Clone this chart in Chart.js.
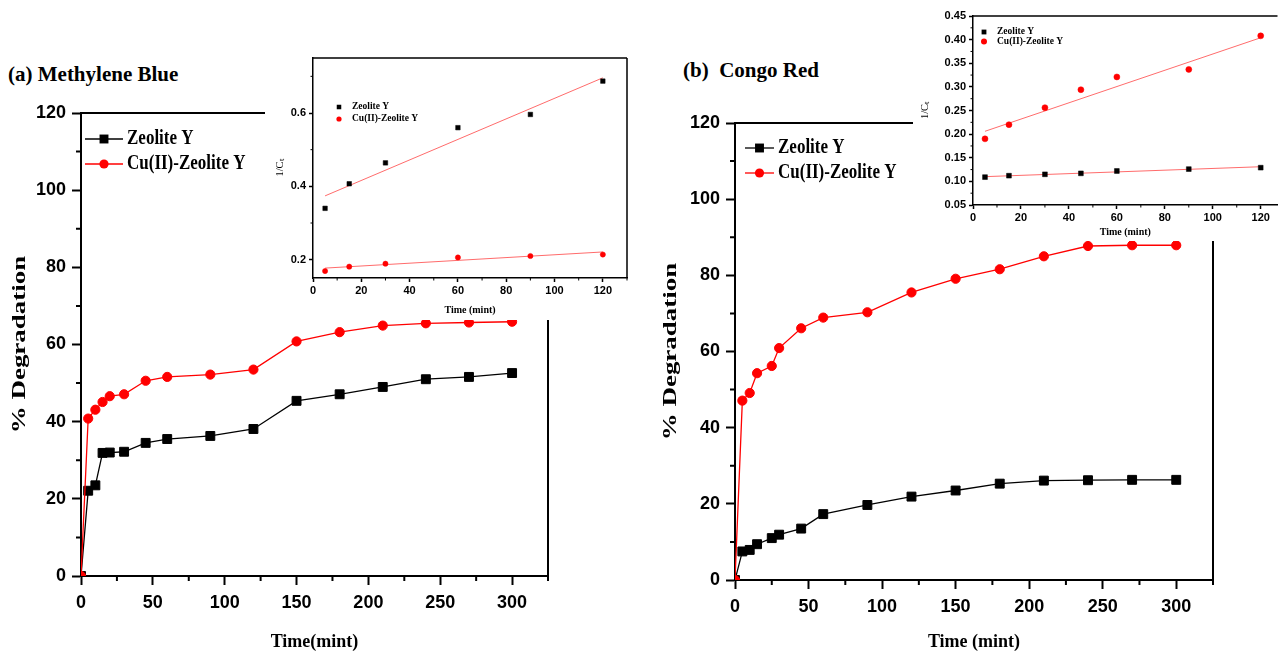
<!DOCTYPE html>
<html>
<head>
<meta charset="utf-8">
<script src="https://cdn.jsdelivr.net/npm/chart.js@4.4.1/dist/chart.umd.min.js"></script>
<style>
  html, body { margin: 0; padding: 0; background: #fff; overflow: hidden; }
  body { width: 1282px; height: 653px; position: relative; }
  canvas { position: absolute; }
  .inset { background: #fff; }
  .panel-title {
    position: absolute; color: #000; white-space: pre;
    font-family: 'Liberation Serif', 'Times New Roman', serif;
    font-weight: bold; font-size: 21px;
  }
</style>
</head>
<body>
<div class="panel-title" style="left:8px; top:62px">(a) Methylene Blue</div>
<div class="panel-title" style="left:683px; top:58px">(b)  Congo Red</div>

<canvas id="mainA" width="570" height="653" style="left:0; top:0"></canvas>
<canvas id="mainB" width="600" height="653" style="left:640px; top:0"></canvas>
<canvas id="insetA" class="inset" width="380" height="280" style="left:265px; top:40px"></canvas>
<canvas id="insetB" class="inset" width="369" height="241" style="left:913px; top:0"></canvas>

<script>
// ---- data ----
const timeA = [0, 5, 10, 15, 20, 30, 45, 60, 90, 120, 150, 180, 210, 240, 270, 300];
const zeoliteA = [0, 22.1, 23.5, 31.9, 32.0, 32.2, 34.5, 35.5, 36.3, 38.1, 45.4, 47.1, 49.0, 51.0, 51.6, 52.6];
const cuZeoliteA = [0, 40.8, 43.1, 45.1, 46.6, 47.1, 50.6, 51.6, 52.2, 53.5, 60.8, 63.2, 64.9, 65.5, 65.7, 65.9];

const timeB = [0, 5, 10, 15, 25, 30, 45, 60, 90, 120, 150, 180, 210, 240, 270, 300];
const zeoliteB = [0, 7.5, 7.9, 9.4, 11.0, 11.9, 13.5, 17.3, 19.7, 21.9, 23.5, 25.3, 26.1, 26.2, 26.3, 26.3];
const cuZeoliteB = [0, 47.1, 49.1, 54.3, 56.2, 60.9, 66.1, 68.9, 70.3, 75.5, 79.1, 81.6, 85.0, 87.7, 87.9, 87.9];

// kinetic insets (1/Ct vs time) and their fitted lines
const insetTimeA = [5, 15, 30, 60, 90, 120];
const insetZeoA = [0.340, 0.407, 0.464, 0.560, 0.596, 0.687];
const insetCuA = [0.169, 0.181, 0.189, 0.206, 0.210, 0.214];
const fitTimeA = [5, 120];
const fitZeoA = [0.374, 0.696];
const fitCuA = [0.177, 0.221];

const insetTimeB = [5, 15, 30, 45, 60, 90, 120];
const insetZeoB = [0.109, 0.112, 0.115, 0.117, 0.122, 0.126, 0.129];
const insetCuB = [0.190, 0.220, 0.256, 0.294, 0.321, 0.337, 0.408];
const fitTimeB = [5, 120];
const fitZeoB = [0.110, 0.131];
const fitCuB = [0.206, 0.404];

// tick values
const mainXTicks = [0, 50, 100, 150, 200, 250, 300];
const mainXMinor = [25, 75, 125, 175, 225, 275, 325];
const mainYTicks = [0, 20, 40, 60, 80, 100, 120];
const mainYMinor = [10, 30, 50, 70, 90, 110];
const insetXTicks = [0, 20, 40, 60, 80, 100, 120];
const insetXMinor = [10, 30, 50, 70, 90, 110, 130];
const insetAYTicks = [0.2, 0.4, 0.6];
const insetAYMinor = [0.3, 0.5, 0.7];
const insetBYTicks = [0.05, 0.10, 0.15, 0.20, 0.25, 0.30, 0.35, 0.40, 0.45];
const insetBYMinor = [0.075, 0.125, 0.175, 0.225, 0.275, 0.325, 0.375, 0.425];

const SERIF = "'Liberation Serif', 'Times New Roman', serif";
const SANS = "'Liberation Sans', Arial, sans-serif";
const RED = '#ff0000';
const FIT = 'rgba(255, 70, 70, 0.8)';

function pts(xs, ys) { return xs.map((x, i) => ({ x, y: ys[i] })); }

// closed frame on top (and right) of the plot area
const frame = {
  id: 'frame',
  afterDraw(chart, args, o) {
    const { left, right, top, bottom } = chart.chartArea;
    const ctx = chart.ctx;
    ctx.save();
    ctx.strokeStyle = '#000';
    ctx.lineWidth = o.width;
    ctx.beginPath();
    ctx.moveTo(left, top); ctx.lineTo(right, top);
    if (o.right) { ctx.moveTo(right, top); ctx.lineTo(right, bottom); }
    ctx.stroke();
    ctx.restore();
  }
};

// short outward minor ticks between labelled ones
const minorTicks = {
  id: 'minorTicks',
  afterDraw(chart, args, o) {
    const ctx = chart.ctx, a = chart.chartArea;
    const xs = chart.scales.x, ys = chart.scales.y;
    ctx.save();
    ctx.strokeStyle = '#000';
    ctx.lineWidth = o.width;
    ctx.beginPath();
    o.x.forEach(v => {
      if (v < xs.min || v > xs.max) return;
      const px = xs.getPixelForValue(v);
      ctx.moveTo(px, a.bottom); ctx.lineTo(px, a.bottom + o.len);
    });
    o.y.forEach(v => {
      if (v < ys.min || v > ys.max) return;
      const py = ys.getPixelForValue(v);
      ctx.moveTo(a.left, py); ctx.lineTo(a.left - o.len, py);
    });
    ctx.stroke();
    ctx.restore();
  }
};

// Origin-style legend: line with marker, label to the right
const lineLegend = {
  id: 'lineLegend',
  afterDraw(chart, args, o) {
    const ctx = chart.ctx, a = chart.chartArea;
    ctx.save();
    ctx.font = o.font;
    ctx.textBaseline = 'middle';
    let row = 0;
    chart.data.datasets.forEach(ds => {
      if (ds.fit) return;
      const y = a.top + o.dy + row * o.rowH;
      const x0 = a.left + o.dx;
      const cx = x0 + o.lineLen / 2;
      ctx.strokeStyle = ds.borderColor;
      ctx.fillStyle = ds.pointBackgroundColor;
      if (o.lineLen > 0) {
        ctx.lineWidth = ds.borderWidth;
        ctx.beginPath(); ctx.moveTo(x0, y); ctx.lineTo(x0 + o.lineLen, y); ctx.stroke();
      }
      const r = ds.pointRadius;
      ctx.beginPath();
      if (ds.pointStyle === 'rect') {
        const s = r * Math.SQRT1_2;
        ctx.rect(cx - s, y - s, 2 * s, 2 * s);
      } else {
        ctx.arc(cx, y, r, 0, Math.PI * 2);
      }
      ctx.fill();
      ctx.fillStyle = '#000';
      ctx.save();
      ctx.translate(x0 + o.lineLen + o.gap, y);
      ctx.scale(o.squeeze, 1);
      ctx.fillText(ds.label, 0, 0);
      ctx.restore();
      row++;
    });
    ctx.restore();
  }
};

// rotated y title, drawn long like in the source figure
const yTitle = {
  id: 'yTitle',
  afterDraw(chart, args, o) {
    const ctx = chart.ctx, a = chart.chartArea;
    ctx.save();
    ctx.translate(o.x, (a.top + a.bottom) / 2);
    ctx.rotate(-Math.PI / 2);
    ctx.scale(o.stretch, 1);
    ctx.font = o.font;
    ctx.fillStyle = '#000';
    ctx.textAlign = 'center';
    ctx.textBaseline = 'middle';
    ctx.fillText(o.text, 0, 0);
    ctx.restore();
  }
};

function axis(o) {
  return {
    type: 'linear', min: o.min, max: o.max,
    afterBuildTicks: s => { s.ticks = o.ticks.map(v => ({ value: v })); },
    afterFit: s => { if (s.isHorizontal()) s.height = o.size; else s.width = o.size; },
    ticks: {
      color: '#000', padding: o.pad, autoSkip: false, maxRotation: 0,
      font: { family: SANS, size: o.fs, weight: 'bold' },
      callback: v => o.fmt ? o.fmt(v) : String(v)
    },
    grid: { drawOnChartArea: false, drawTicks: true, tickLength: o.tick, tickWidth: o.lw, tickColor: '#000' },
    border: { display: true, color: '#000', width: o.lw },
    title: {
      display: !!o.title, text: o.title || '', color: '#000', padding: o.tpad,
      font: { family: SERIF, size: o.tfs, weight: o.tw || 'bold' }
    }
  };
}

function mainChart(id, time, zeo, cu, c) {
  return new Chart(document.getElementById(id), {
    type: 'line',
    data: {
      datasets: [
        { label: 'Zeolite Y', data: pts(time, zeo), order: 1, borderColor: '#000', backgroundColor: '#000',
          pointBackgroundColor: '#000', pointBorderColor: '#000', pointStyle: 'rect',
          pointRadius: 6.3, pointBorderWidth: 1, borderWidth: 1.3 },
        { label: 'Cu(II)-Zeolite Y', data: pts(time, cu), order: 0, borderColor: RED, backgroundColor: RED,
          pointBackgroundColor: RED, pointBorderColor: RED, pointStyle: 'circle',
          pointRadius: 4.6, pointBorderWidth: 1, borderWidth: 1.3 }
      ]
    },
    options: {
      responsive: false, animation: false, events: [],
      layout: { padding: { left: 0, top: c.top, right: c.right, bottom: 0 } },
      plugins: {
        legend: { display: false }, tooltip: { enabled: false },
        frame: { width: 2, right: true },
        minorTicks: { x: mainXMinor, y: mainYMinor, len: 5, width: 2 },
        lineLegend: { dx: c.lgX, dy: c.lgY, lineLen: c.lgLen, gap: 4, rowH: 25, squeeze: 0.85,
                      font: 'bold 20px ' + SERIF },
        yTitle: { text: '% Degradation', x: c.ytx, stretch: 1.42, font: 'bold 19px ' + SERIF }
      },
      scales: {
        x: axis({ min: 0, max: 325, ticks: mainXTicks, size: c.xh, pad: 7, fs: 18, tick: 9, lw: 2,
                  title: c.xTitle, tfs: 18, tpad: { top: 0, bottom: 0 } }),
        y: axis({ min: 0, max: 120, ticks: mainYTicks, size: c.yw, pad: 6, fs: 18, tick: 9, lw: 2 })
      }
    },
    plugins: [frame, minorTicks, lineLegend, yTitle]
  });
}

function insetChart(id, c) {
  return new Chart(document.getElementById(id), {
    type: 'scatter',
    data: {
      datasets: [
        { label: 'Zeolite Y', data: pts(c.time, c.zeo), pointStyle: 'rect', pointRadius: c.sq,
          pointBackgroundColor: '#000', pointBorderColor: '#000', borderColor: '#000', pointBorderWidth: 0.5 },
        { label: 'Cu(II)-Zeolite Y', data: pts(c.time, c.cu), pointStyle: 'circle', pointRadius: c.ci,
          pointBackgroundColor: RED, pointBorderColor: RED, borderColor: RED, pointBorderWidth: 0.5 },
        { fit: true, data: pts(c.fitTime, c.fitZeo), showLine: true, borderColor: FIT, borderWidth: 1, pointRadius: 0 },
        { fit: true, data: pts(c.fitTime, c.fitCu), showLine: true, borderColor: FIT, borderWidth: 1, pointRadius: 0 }
      ]
    },
    options: {
      responsive: false, animation: false, events: [],
      layout: { padding: { left: 0, top: c.top, right: c.right, bottom: 0 } },
      plugins: {
        legend: { display: false }, tooltip: { enabled: false },
        frame: { width: 1.5, right: c.frameRight },
        minorTicks: { x: insetXMinor, y: c.yMinor, len: 2.5, width: 1 },
        lineLegend: { dx: c.lgX, dy: c.lgY, lineLen: 0, gap: 13, rowH: c.lgRow, squeeze: 1,
                      font: 'bold 9.5px ' + SERIF }
      },
      scales: {
        x: axis({ min: 0, max: c.xMax, ticks: insetXTicks, size: c.xh, pad: 2, fs: 11, tick: 4, lw: 1.5,
                  title: 'Time (mint)', tfs: 10, tpad: { top: 0, bottom: c.xtb } }),
        y: axis({ min: c.yMin, max: c.yMax, ticks: c.yTicks, size: c.yw, pad: 3, fs: 11, tick: 4, lw: 1.5,
                  fmt: c.fmt, title: '1/C\u209C', tfs: 10.5, tw: 'normal', tpad: { top: c.ytp, bottom: 0 } })
      }
    },
    plugins: [frame, minorTicks, lineLegend]
  });
}

mainChart('mainA', timeA, zeoliteA, cuZeoliteA, {
  top: 113, right: 22, xh: 77, yw: 81, ytx: 20, xTitle: 'Time(mint)', lgX: 4, lgY: 26, lgLen: 38
});
mainChart('mainB', timeB, zeoliteB, cuZeoliteB, {
  top: 123, right: 27, xh: 73, yw: 95, ytx: 31.5, xTitle: 'Time (mint)', lgX: 10, lgY: 25, lgLen: 29
});

insetChart('insetA', {
  time: insetTimeA, zeo: insetZeoA, cu: insetCuA, fitTime: fitTimeA, fitZeo: fitZeoA, fitCu: fitCuA,
  top: 18, right: 18, xh: 42, yw: 48, xtb: 4, ytp: 9, xMax: 130,
  yMin: 0.15, yMax: 0.75, yTicks: insetAYTicks, yMinor: insetAYMinor, fmt: v => v.toFixed(1),
  sq: 3.2, ci: 2.6, frameRight: true, lgX: 26, lgY: 49, lgRow: 12
});
insetChart('insetB', {
  time: insetTimeB, zeo: insetZeoB, cu: insetCuB, fitTime: fitTimeB, fitZeo: fitZeoB, fitCu: fitCuB,
  top: 16, right: 0, xh: 36, yw: 60, xtb: 3, ytp: 6, xMax: 127,
  yMin: 0.05, yMax: 0.45, yTicks: insetBYTicks, yMinor: insetBYMinor, fmt: v => v.toFixed(2),
  sq: 3.4, ci: 3, frameRight: false, lgX: 11, lgY: 16, lgRow: 9.5
});
</script>
</body>
</html>
